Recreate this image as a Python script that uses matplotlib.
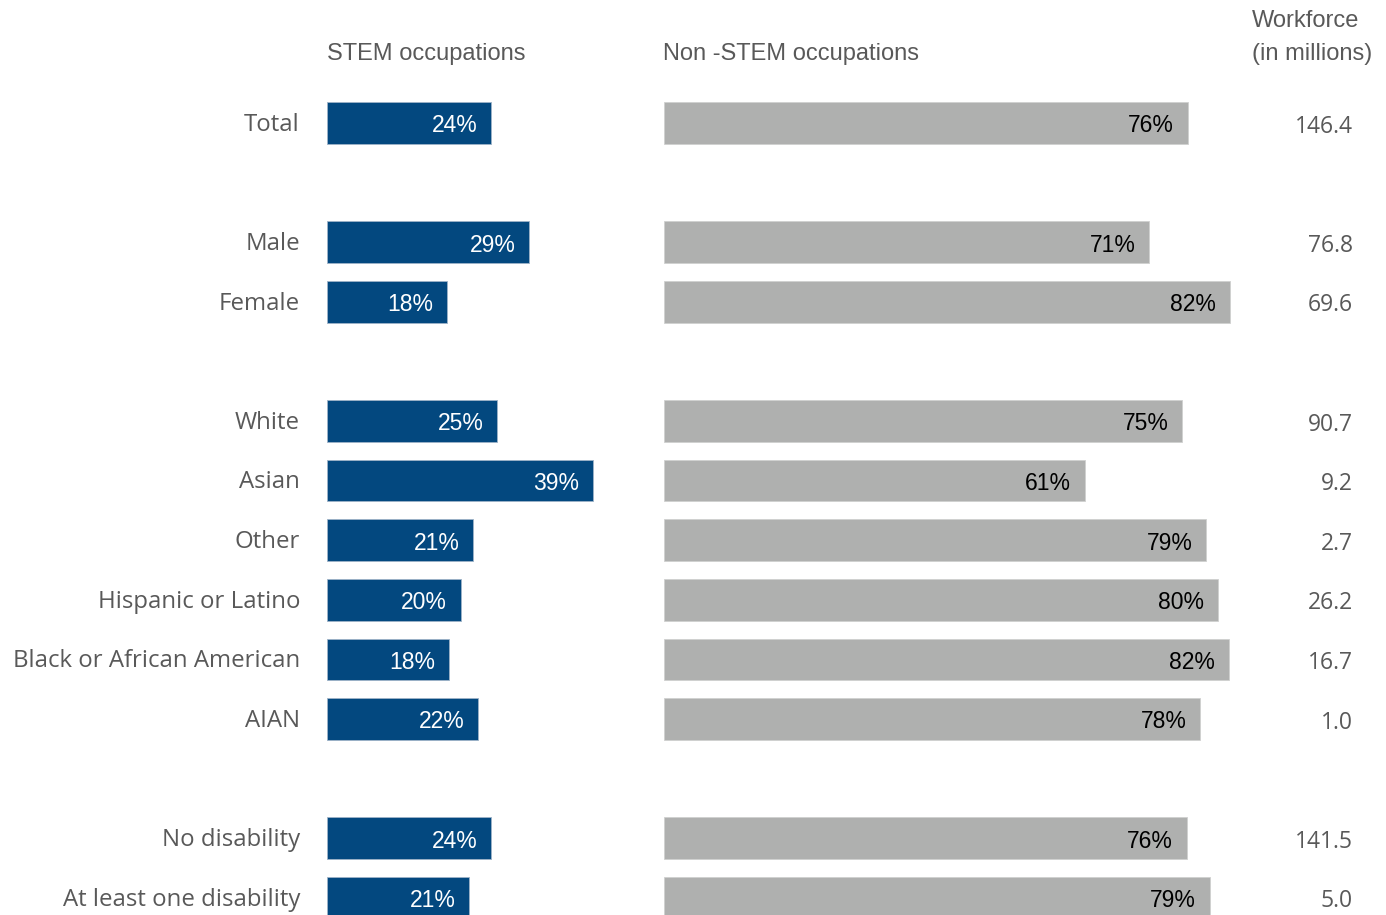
import matplotlib.pyplot as plt

categories = ["Total", "", "Male", "Female", "", "White", "Asian", "Other",
              "Hispanic or Latino", "Black or African American", "AIAN", "",
              "No disability", "At least one disability"]
# bar lengths (percent)
stem_pct = [24.0, None, 29.6, 17.6, None, 24.9, 38.9, 21.4, 19.6, 17.9, 22.1, None, 24.0, 20.8]
non_stem_pct = [76.0, None, 70.4, 82.1, None, 75.2, 61.1, 78.7, 80.4, 82.0, 77.8, None, 75.9, 79.2]
# printed labels
stem_lbl = ["24%", "", "29%", "18%", "", "25%", "39%", "21%", "20%", "18%", "22%", "", "24%", "21%"]
non_stem_lbl = ["76%", "", "71%", "82%", "", "75%", "61%", "79%", "80%", "82%", "78%", "", "76%", "79%"]
workforce = ["146.4", "", "76.8", "69.6", "", "90.7", "9.2", "2.7", "26.2",
             "16.7", "1.0", "", "141.5", "5.0"]

BLUE = "#03487f"
GRAY = "#afb0af"
TEXT = "#595959"

W, H = 1386, 915
fig = plt.figure(figsize=(W / 100, H / 100), dpi=100)

# row i sits at pixel 123 + 59.6*i
row0, step = 123.0, 59.6
ytop = -row0 / step
ybot = (H - row0) / step


def make_ax(x0_px, width_px, px_per_pct):
    ax = fig.add_axes([x0_px / W, 0, width_px / W, 1])
    ax.set_xlim(0, width_px / px_per_pct)
    ax.set_ylim(ybot, ytop)
    ax.axis("off")
    return ax


ax_stem = make_ax(327, 300, 6.83)
ax_non = make_ax(664, 600, 6.89)
ax_lab = fig.add_axes([0, 0, 1, 1])
ax_lab.set_xlim(0, W)
ax_lab.set_ylim(ybot, ytop)
ax_lab.axis("off")

rows = [i for i, c in enumerate(categories) if c]
for i in rows:
    ax_stem.barh(i, stem_pct[i], height=0.7, color=BLUE, edgecolor="#9fb3c8", linewidth=0.6)
    ax_stem.text(stem_pct[i] - 2.0, i + 0.05, stem_lbl[i], ha="right", va="center",
                 color="white", fontsize=16.5, family="Liberation Sans")
    ax_non.barh(i, non_stem_pct[i], height=0.7, color=GRAY, edgecolor="#d0d0d0", linewidth=0.6)
    ax_non.text(non_stem_pct[i] - 2.0, i + 0.05, non_stem_lbl[i], ha="right", va="center",
                color="black", fontsize=16.5, family="Liberation Sans")
    ax_lab.text(300, i + 0.03, categories[i], ha="right", va="center", color=TEXT,
                fontsize=17.3, family="Open Sans")
    ax_lab.text(1353, i + 0.06, workforce[i], ha="right", va="center", color=TEXT,
                fontsize=16.5, family="Open Sans")

hdr_y = (54 - row0) / step
ax_lab.text(327, hdr_y, "STEM occupations", ha="left", va="center", color=TEXT,
            fontsize=17, family="Liberation Sans")
ax_lab.text(663, hdr_y, "Non -STEM occupations", ha="left", va="center", color=TEXT,
            fontsize=17, family="Liberation Sans")
ax_lab.text(1252, (21 - row0) / step, "Workforce", ha="left", va="center", color=TEXT,
            fontsize=17, family="Liberation Sans")
ax_lab.text(1252, hdr_y, "(in millions)", ha="left", va="center", color=TEXT,
            fontsize=17, family="Liberation Sans")

fig.savefig("out.png", dpi=100)
